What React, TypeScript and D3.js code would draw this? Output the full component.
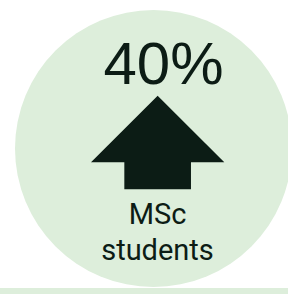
import React, { useEffect, useRef } from 'react'
import * as d3 from 'd3'

// values
const percentValues = [40]
const labelLines = ['MSc', 'students']
const directions = ['up']

// arrow outline in unit space (x: -1..1, y: 0 tip .. 1 base of shaft)
const arrowX = [0, 1, 0.5, 0.5, -0.5, -0.5, -1]
const arrowY = [0, 0.71, 0.71, 1, 1, 0.71, 0.71]

const W = 288
const H = 294

export default function App() {
  const ref = useRef<SVGSVGElement>(null)

  useEffect(() => {
    const svg = d3.select(ref.current)
    svg.selectAll('*').remove()

    const dark = '#0c1c15'
    const pale = '#ddeedb'

    svg.append('circle')
      .attr('cx', 153.5).attr('cy', 148.5).attr('r', 138.5)
      .attr('fill', pale)

    svg.append('rect')
      .attr('x', 0).attr('y', 288).attr('width', W).attr('height', H - 288)
      .attr('fill', pale)

    svg.append('text')
      .attr('x', 163.5).attr('y', 84)
      .attr('text-anchor', 'middle')
      .attr('font-family', '"Liberation Sans", Arial, sans-serif')
      .attr('font-size', 60)
      .attr('fill', dark)
      .text(`${percentValues[0]}%`)

    const xScale = d3.scaleLinear().domain([-1, 1]).range([91, 224.3])
    const yScale = directions[0] === 'up'
      ? d3.scaleLinear().domain([0, 1]).range([95.7, 189.3])
      : d3.scaleLinear().domain([0, 1]).range([189.3, 95.7])

    const pts: [number, number][] = arrowX.map((x, i) => [xScale(x), yScale(arrowY[i])])
    const line = d3.line().curve(d3.curveLinearClosed)
    svg.append('path')
      .attr('d', line(pts))
      .attr('fill', dark)

    svg.selectAll('.lbl')
      .data(labelLines)
      .join('text')
      .attr('class', 'lbl')
      .attr('x', 157.5)
      .attr('y', (d, i) => 224 + i * 36)
      .attr('text-anchor', 'middle')
      .attr('font-family', 'Roboto, "Liberation Sans", Arial, sans-serif')
      .attr('font-size', 29)
      .attr('fill', dark)
      .text(d => d)
  }, [])

  return (
    <div style={{ position: 'fixed', left: 0, top: 0, width: W, height: H, background: '#fff' }}>
      <svg ref={ref} width={W} height={H} />
    </div>
  )
}
